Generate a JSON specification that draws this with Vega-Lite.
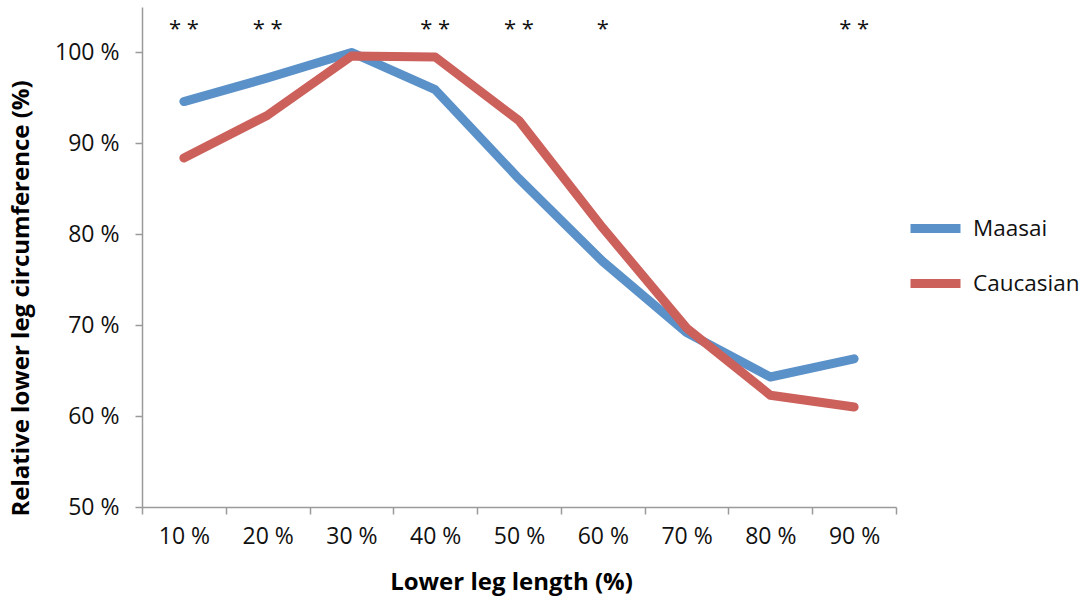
{
  "$schema": "https://vega.github.io/schema/vega-lite/v6.json",
  "width": 754,
  "height": 500,
  "autosize": {"type": "none"},
  "padding": {"left": 142, "top": 7, "right": 192, "bottom": 93},
  "background": "white",
  "config": {
    "view": {"stroke": null},
    "font": "Open Sans",
    "axis": {
      "domainColor": "#9a9a9a",
      "domainWidth": 1.5,
      "tickColor": "#9a9a9a",
      "tickWidth": 1.5,
      "tickSize": 7,
      "labelFontSize": 23,
      "labelColor": "#111111",
      "titleFontSize": 24,
      "titleFontWeight": "bold",
      "titleColor": "#000000",
      "grid": false
    }
  },
  "datasets": {
    "lines": [
      {"length": "10 %", "group": "Maasai", "value": 94.6},
      {"length": "20 %", "group": "Maasai", "value": 97.2},
      {"length": "30 %", "group": "Maasai", "value": 100.0},
      {"length": "40 %", "group": "Maasai", "value": 95.9},
      {"length": "50 %", "group": "Maasai", "value": 86.1},
      {"length": "60 %", "group": "Maasai", "value": 77.0},
      {"length": "70 %", "group": "Maasai", "value": 69.2},
      {"length": "80 %", "group": "Maasai", "value": 64.3},
      {"length": "90 %", "group": "Maasai", "value": 66.3},
      {"length": "10 %", "group": "Caucasian", "value": 88.4},
      {"length": "20 %", "group": "Caucasian", "value": 93.1},
      {"length": "30 %", "group": "Caucasian", "value": 99.6},
      {"length": "40 %", "group": "Caucasian", "value": 99.5},
      {"length": "50 %", "group": "Caucasian", "value": 92.5},
      {"length": "60 %", "group": "Caucasian", "value": 80.7},
      {"length": "70 %", "group": "Caucasian", "value": 69.7},
      {"length": "80 %", "group": "Caucasian", "value": 62.3},
      {"length": "90 %", "group": "Caucasian", "value": 61.0}
    ],
    "stars": [
      {"length": "10 %", "label": "* *", "pos": 102.7},
      {"length": "20 %", "label": "* *", "pos": 102.7},
      {"length": "40 %", "label": "* *", "pos": 102.7},
      {"length": "50 %", "label": "* *", "pos": 102.7},
      {"length": "60 %", "label": "*", "pos": 102.7},
      {"length": "90 %", "label": "* *", "pos": 102.7}
    ]
  },
  "layer": [
    {
      "data": {"name": "lines"},
      "mark": {"type": "line", "strokeWidth": 9, "strokeCap": "round", "strokeJoin": "round"},
      "encoding": {
        "x": {
          "field": "length",
          "type": "ordinal",
          "bandPosition": 0.5,
          "scale": {
            "type": "band",
            "paddingInner": 0,
            "paddingOuter": 0,
            "domain": ["10 %", "20 %", "30 %", "40 %", "50 %", "60 %", "70 %", "80 %", "90 %"]
          },
          "axis": {
            "title": "Lower leg length (%)",
            "tickBand": "extent",
            "labelAngle": 0,
            "labelPadding": 11,
            "titlePadding": 22,
            "titleX": 369
          }
        },
        "y": {
          "field": "value",
          "type": "quantitative",
          "scale": {"domain": [50, 105], "nice": false, "zero": false},
          "axis": {
            "title": "Relative lower leg circumference (%)",
            "values": [50, 60, 70, 80, 90, 100],
            "labelExpr": "datum.value + ' %'",
            "labelPadding": 16,
            "titlePadding": 21,
            "titleY": 291
          }
        },
        "color": {
          "field": "group",
          "type": "nominal",
          "scale": {"domain": ["Maasai", "Caucasian"], "range": ["#5B91C9", "#CC605B"]},
          "legend": {
            "title": null,
            "orient": "none",
            "legendX": 764,
            "legendY": 192,
            "symbolType": "stroke",
            "symbolSize": 2500,
            "symbolStrokeWidth": 9,
            "labelFontSize": 22.5,
            "labelColor": "#111111",
            "labelOffset": 8,
            "rowPadding": 7
          }
        }
      }
    },
    {
      "data": {"name": "stars"},
      "mark": {"type": "text", "fontSize": 22, "baseline": "middle", "dy": 1, "color": "#111111"},
      "encoding": {
        "x": {"field": "length", "type": "ordinal", "bandPosition": 0.5},
        "y": {"field": "pos", "type": "quantitative"},
        "text": {"field": "label"}
      }
    }
  ]
}
